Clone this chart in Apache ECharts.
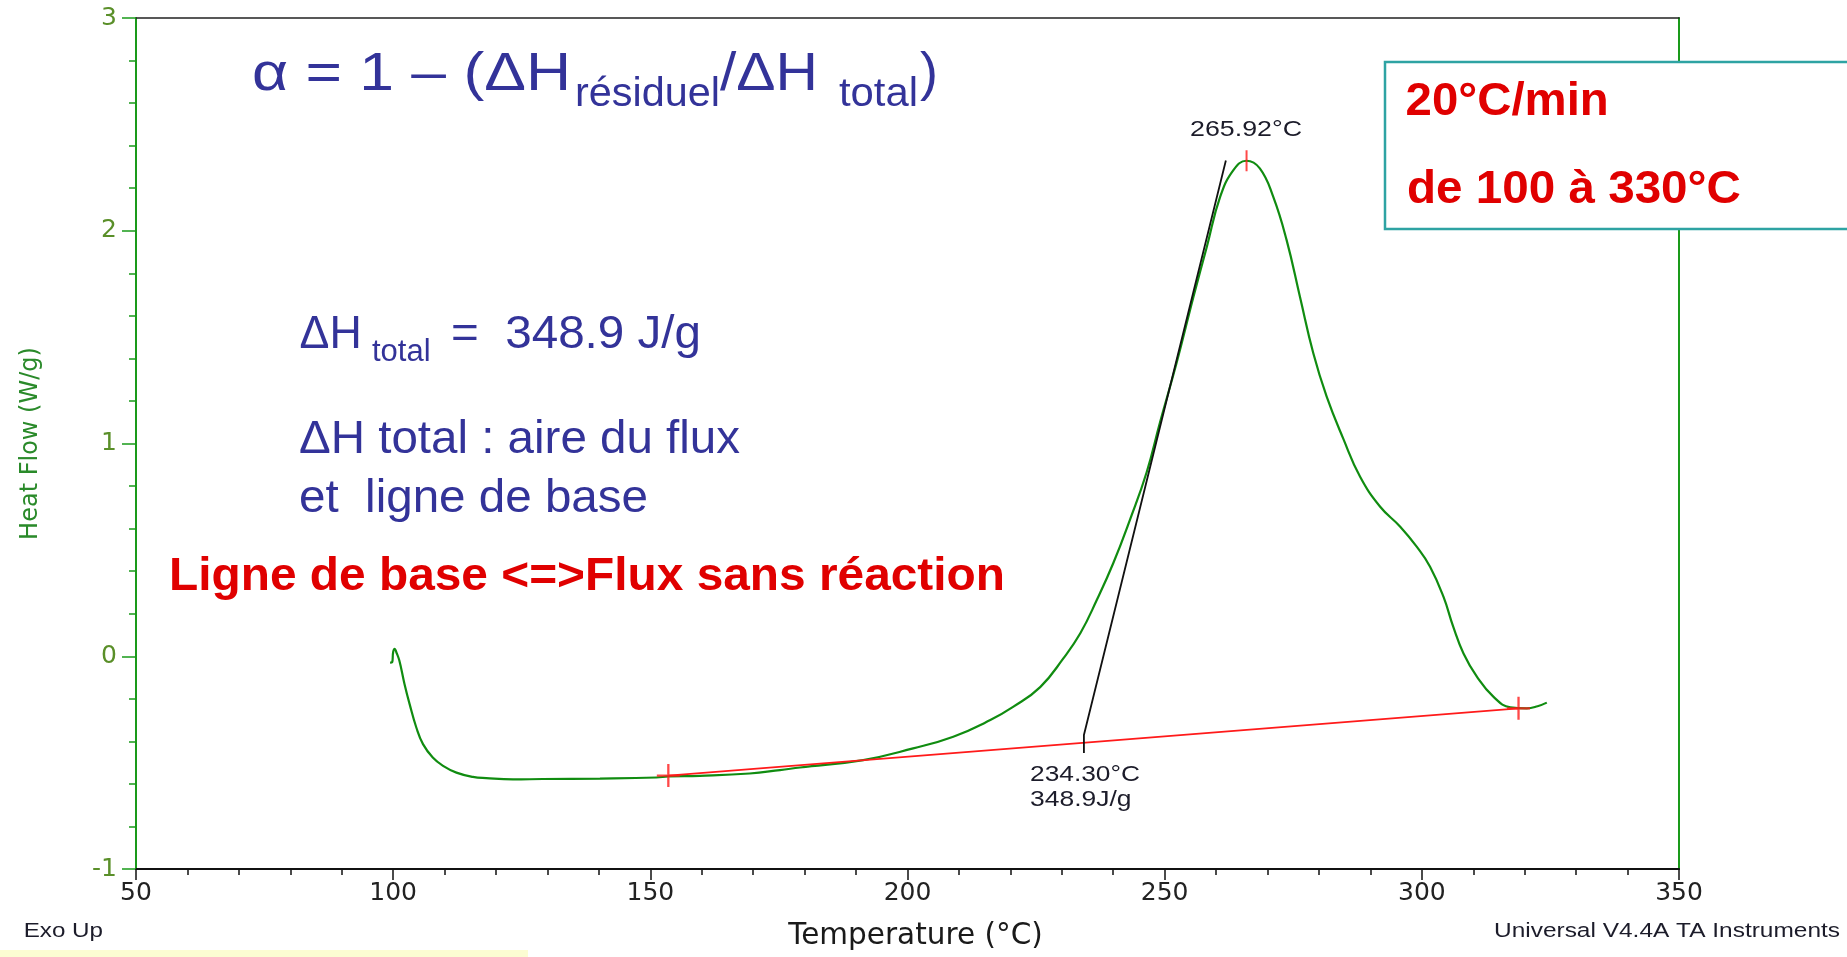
<!DOCTYPE html>
<html><head><meta charset="utf-8">
<script src="https://cdn.jsdelivr.net/npm/echarts@6/dist/echarts.min.js"></script>
<style>html,body{margin:0;padding:0;background:#fff}#c{width:1847px;height:957px}</style>
</head><body><div id="c"></div>
<script>
// ---- data ----
const temperature = [99.4, 99.8, 100.0, 100.3, 100.6, 101.2, 102.2, 103.2, 104.5, 105.8, 107.7, 109.7, 112.3, 115.5, 118.1, 123.3, 129.1, 140.2, 151.2, 153.5, 159.6, 169.3, 175.2, 179.1, 191.4, 201.1, 208.9, 216.1, 220.6, 225.8, 230.3, 233.6, 236.8, 240.0, 243.3, 246.5, 249.1, 252.3, 255.6, 258.2, 260.8, 263.4, 265.9, 268.5, 271.1, 273.7, 276.3, 278.9, 281.5, 284.7, 288.0, 291.9, 295.8, 299.0, 301.6, 304.2, 306.1, 308.1, 310.7, 313.9, 317.2, 320.4, 322.5, 324.3];
const heatFlow = [-0.03, -0.028, 0.02, 0.035, 0.02, -0.02, -0.13, -0.225, -0.335, -0.413, -0.476, -0.515, -0.547, -0.567, -0.573, -0.579, -0.577, -0.575, -0.570, -0.565, -0.562, -0.551, -0.535, -0.523, -0.488, -0.433, -0.378, -0.300, -0.237, -0.145, -0.010, 0.108, 0.264, 0.437, 0.645, 0.865, 1.100, 1.377, 1.690, 1.925, 2.160, 2.286, 2.329, 2.293, 2.160, 1.957, 1.690, 1.424, 1.220, 1.024, 0.844, 0.703, 0.609, 0.515, 0.421, 0.280, 0.139, 0.013, -0.096, -0.190, -0.240, -0.245, -0.235, -0.218];
const baselineTemp = [153.5, 318.8];
const baselineFlow = [-0.561, -0.245];
const tangentTemp = [234.3, 234.3, 261.9];
const tangentFlow = [-0.455, -0.37, 2.33];
const peakTemp = [265.92];
const peakFlow = [2.329];
const xMin = 50, xMax = 350, xStep = 50;
const yMin = -1, yMax = 3, yStep = 1;

// ---- texts ----
const BLUE = '#333399', RED = '#e00000', DARK = '#1c1c2a';
const SANS = '"Liberation Sans", Arial, sans-serif';
// [text, left, right, baseline, size, weight, color]
const textPieces = [
  ['α = 1 – (ΔH', 252, 571, 93, 54, 'normal', BLUE],
  ['résiduel', 575, 720, 109, 40, 'normal', BLUE],
  ['/ΔH', 720, 818, 93, 54, 'normal', BLUE],
  ['total', 839, 918, 109, 40, 'normal', BLUE],
  [')', 920, 936, 93, 54, 'normal', BLUE],
  ['ΔH', 299.5, 361.7, 351, 47, 'normal', BLUE],
  ['total', 372, 430.6, 363, 31, 'normal', BLUE],
  ['=  348.9 J/g', 451, 701, 351, 47, 'normal', BLUE],
  ['ΔH total : aire du flux', 299, 740, 456, 46, 'normal', BLUE],
  ['et  ligne de base', 299, 648, 515, 46, 'normal', BLUE],
  ['Ligne de base <=>Flux sans réaction', 169, 1005, 593, 47, 'bold', RED],
  ['20°C/min', 1405.6, 1608.7, 118.3, 46.5, 'bold', RED],
  ['de 100 à 330°C', 1407, 1741, 206, 47, 'bold', RED],
  ['265.92°C', 1190, 1302, 137.3, 22, 'normal', DARK],
  ['234.30°C', 1030, 1140, 782, 22, 'normal', DARK],
  ['348.9J/g', 1030, 1131.5, 807, 22, 'normal', DARK],
  ['Exo Up', 23.7, 103, 938, 20, 'normal', DARK],
  ['Universal V4.4A TA Instruments', 1494, 1840, 938, 20.5, 'normal', DARK]
];

const mctx = document.createElement('canvas').getContext('2d');
function textEl(p) {
  const [txt, x0, x1, base, size, weight, color] = p;
  const font = weight + ' ' + size + 'px ' + SANS;
  mctx.font = font;
  const w = mctx.measureText(txt).width;
  const sx = txt.length > 1 ? (x1 - x0) / w : 1;
  return {
    type: 'text', x: x0, y: base - 0.34 * size, scaleX: sx, z: 100,
    style: { text: txt, font: font, fill: color, align: 'left', verticalAlign: 'middle',
             textAlign: 'left', textVerticalAlign: 'middle' }
  };
}

const graphics = [
  { type: 'rect', z: 99, shape: { x: 1385, y: 62, width: 480, height: 167 },
    style: { fill: '#ffffff', stroke: '#2ea3a3', lineWidth: 2.5 } },
  { type: 'rect', z: 99, shape: { x: 0, y: 950, width: 528, height: 7 },
    style: { fill: '#fcfcd2' } }
].concat(textPieces.map(textEl));

const GREEN = '#108c10';
const chart = echarts.init(document.getElementById('c'), null, { renderer: 'canvas' });
chart.setOption({
  animation: false,
  backgroundColor: '#ffffff',
  grid: { left: 136, right: 168, top: 18, bottom: 88 },
  xAxis: [{
    type: 'value', min: xMin, max: xMax, interval: xStep, position: 'bottom',
    name: 'Temperature (°C)', nameLocation: 'middle', nameGap: 52,
    nameTextStyle: { fontFamily: 'DejaVu Sans', fontSize: 29.5, color: '#1a1a1a', padding: [0, 0, 0, 16] },
    axisLine: { onZero: false, lineStyle: { color: '#111', width: 2 } },
    axisTick: { show: true, length: 11, lineStyle: { color: '#111', width: 1.5 } },
    minorTick: { show: true, splitNumber: 5, length: 6, lineStyle: { color: '#111', width: 1.5 } },
    axisLabel: { fontFamily: 'DejaVu Sans', fontSize: 25, color: '#222', margin: 12 },
    splitLine: { show: false }
  }, {
    type: 'value', min: xMin, max: xMax, position: 'top',
    axisLine: { onZero: false, lineStyle: { color: '#222', width: 1.5 } },
    axisTick: { show: false }, axisLabel: { show: false }, splitLine: { show: false }
  }],
  yAxis: [{
    type: 'value', min: yMin, max: yMax, interval: yStep, position: 'left',
    name: 'Heat Flow (W/g)', nameLocation: 'middle', nameGap: 93,
    nameTextStyle: { fontFamily: 'DejaVu Sans', fontSize: 24, color: '#2a8a2a' },
    axisLine: { onZero: false, lineStyle: { color: '#1a9a1a', width: 2 } },
    axisTick: { show: true, length: 14, lineStyle: { color: '#1a9a1a', width: 1.5 } },
    minorTick: { show: true, splitNumber: 5, length: 7, lineStyle: { color: '#1a9a1a', width: 1.5 } },
    axisLabel: { fontFamily: 'DejaVu Sans', fontSize: 25, color: '#5a8f29', margin: 19 },
    splitLine: { show: false }
  }, {
    type: 'value', min: yMin, max: yMax, position: 'right',
    axisLine: { onZero: false, lineStyle: { color: '#1a9a1a', width: 2 } },
    axisTick: { show: false }, axisLabel: { show: false }, splitLine: { show: false }
  }],
  series: [
    { type: 'line', name: 'baseline', data: baselineTemp.map((t, i) => [t, baselineFlow[i]]),
      showSymbol: false, lineStyle: { color: '#ff1a1a', width: 1.6 }, z: 3 },
    { type: 'line', name: 'tangent', data: tangentTemp.map((t, i) => [t, tangentFlow[i]]),
      showSymbol: false, lineStyle: { color: '#111111', width: 1.8 }, z: 3 },
    { type: 'line', name: 'heat flow', data: temperature.map((t, i) => [t, heatFlow[i]]),
      showSymbol: false, smooth: 0.45,
      lineStyle: { color: GREEN, width: 2.2 }, z: 2 },
    { type: 'scatter', name: 'limits', data: baselineTemp.map((t, i) => [t, baselineFlow[i]]),
      symbol: 'path://M9,0H11V20H9Z M0,9H20V11H0Z', symbolSize: 23,
      itemStyle: { color: '#ff1a1a' }, z: 4 },
    { type: 'scatter', name: 'peak', data: peakTemp.map((t, i) => [t, peakFlow[i]]),
      symbol: 'rect', symbolSize: [2, 21], itemStyle: { color: '#ff1a1a' }, z: 4 }
  ],
  graphic: graphics
});
</script></body></html>
